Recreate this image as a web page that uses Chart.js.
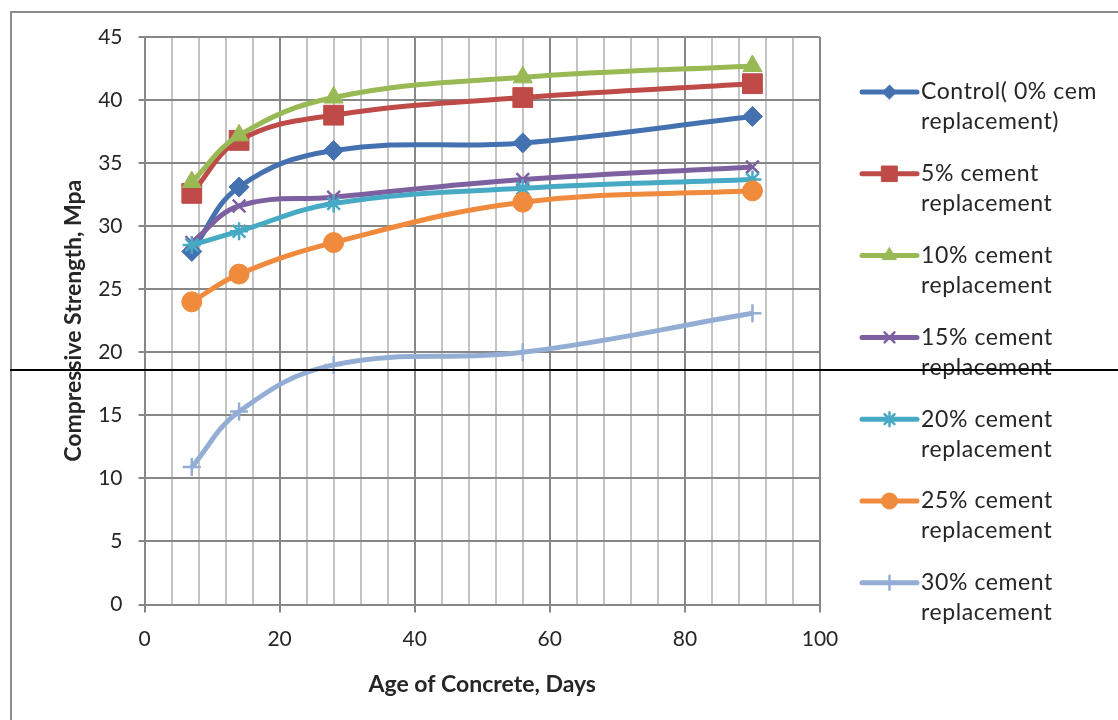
<!DOCTYPE html>
<html>
<head>
<meta charset="utf-8">
<script src="https://cdn.jsdelivr.net/npm/chart.js@4/dist/chart.umd.min.js"></script>
<style>
  html, body { margin:0; padding:0; background:#fff; }
  #wrap { position:relative; width:1118px; height:720px; overflow:hidden; }
  #frame { position:absolute; left:10px; top:11px; width:1200px; height:800px; border:2px solid #8c8c8c; box-sizing:border-box; pointer-events:none; }
  #stray { position:absolute; left:10px; top:369px; width:1108px; height:2px; background:#000; pointer-events:none; }
  canvas { position:absolute; left:0; top:0; }
</style>
</head>
<body>
<div id="wrap">
  <canvas id="c" width="1118" height="720"></canvas>
  <div id="frame"></div>
  <div id="stray"></div>
</div>
<script>
// ---- data ----
const days = [7, 14, 28, 56, 90];
const control = [28.0, 33.1, 36.0, 36.6, 38.7];
const rep5  = [32.6, 36.8, 38.8, 40.2, 41.3];
const rep10 = [33.5, 37.2, 40.2, 41.8, 42.7];
const rep15 = [28.7, 31.6, 32.3, 33.7, 34.7];
const rep20 = [28.5, 29.6, 31.8, 33.0, 33.7];
const rep25 = [24.0, 26.2, 28.7, 31.9, 32.8];
const rep30 = [10.9, 15.3, 19.0, 20.0, 23.1];
const seriesNames = [
  ["Control( 0% cem", "replacement)"],
  ["5% cement", "replacement"],
  ["10% cement", "replacement"],
  ["15% cement", "replacement"],
  ["20% cement", "replacement"],
  ["25% cement", "replacement"],
  ["30% cement", "replacement"]
];
const xTickLabels = [0, 20, 40, 60, 80, 100];
const yTickLabels = [0, 5, 10, 15, 20, 25, 30, 35, 40, 45];
const xTitle = "Age of Concrete, Days";
const yTitle = "Compressive Strength, Mpa";

const seriesValues = [control, rep5, rep10, rep15, rep20, rep25, rep30];
const colors = ['#4472B0', '#BE4B48', '#98B954', '#7D60A0', '#46AAC5', '#F08A3C', '#93ADD5'];
const styles = ['rectRot', 'rect', 'triangle', 'crossRot', 'star', 'circle', 'cross'];
const radii  = [10, 14, 11, 9, 9, 10, 9];
const legendRadii = [7, 11, 8, 7, 7, 8, 7];

const n = seriesValues.length;
const datasets = seriesValues.map((vals, i) => ({
  label: seriesNames[i].join(' '),
  data: vals.map((v, j) => ({ x: days[j], y: v })),
  borderColor: colors[i],
  backgroundColor: colors[i],
  pointBackgroundColor: colors[i],
  pointBorderColor: colors[i],
  pointStyle: styles[i],
  pointRadius: radii[i],
  pointBorderWidth: ['crossRot','star','cross'].includes(styles[i]) ? 2.5 : 1,
  borderWidth: 5,
  tension: 0.4,
  fill: false,
  order: n - i
}));

const FONT = 'Lato, "Open Sans", "DejaVu Sans", sans-serif';
const TXT = '#262626';

const legendPlugin = {
  id: 'customLegend',
  afterDraw(chart) {
    const ctx = chart.ctx;
    const x0 = 862, x1 = 917, tx = 921, y0 = 92, gap = 81.8, lh = 30;
    chart.data.datasets.forEach((ds, i) => {
      const y = y0 + i * gap;
      ctx.save();
      ctx.strokeStyle = ds.borderColor;
      ctx.lineWidth = 5;
      ctx.lineCap = 'round';
      ctx.beginPath();
      ctx.moveTo(x0, y);
      ctx.lineTo(x1, y);
      ctx.stroke();
      ctx.fillStyle = ds.borderColor;
      ctx.strokeStyle = ds.borderColor;
      ctx.lineWidth = ds.pointBorderWidth;
      if (Chart.helpers && Chart.helpers.drawPoint) {
        Chart.helpers.drawPoint(ctx, { pointStyle: ds.pointStyle, radius: legendRadii[i], rotation: 0, borderWidth: ds.pointBorderWidth }, (x0 + x1) / 2, y);
      }
      ctx.fillStyle = TXT;
      ctx.font = '23px ' + FONT;
      if ('letterSpacing' in ctx) ctx.letterSpacing = '0.6px';
      ctx.textBaseline = 'middle';
      ctx.textAlign = 'left';
      seriesNames[i].forEach((line, k) => ctx.fillText(line, tx, y + k * lh));
      ctx.restore();
    });
  }
};

new Chart(document.getElementById('c'), {
  type: 'line',
  data: { datasets },
  plugins: [legendPlugin],
  options: {
    responsive: false,
    animation: false,
    devicePixelRatio: 1,
    layout: { padding: { left: 60, top: 37, right: 298, bottom: 18 } },
    plugins: { legend: { display: false }, tooltip: { enabled: false } },
    scales: {
      x: {
        type: 'linear',
        min: 0, max: 100,
        afterFit: s => { s.height = 720 - 604.5 - 18; },
        ticks: {
          stepSize: 4,
          autoSkip: false,
          maxRotation: 0,
          padding: 14,
          color: TXT,
          font: { family: FONT, size: 21 },
          callback: v => xTickLabels.includes(v) ? String(v) : ''
        },
        grid: {
          lineWidth: 2,
          color: c => (c.tick && c.tick.value % 20 === 0) ? '#878787' : '#c4c4c4',
          tickColor: c => (c.tick && c.tick.value % 20 === 0) ? '#878787' : 'rgba(0,0,0,0)',
          tickLength: 8
        },
        border: { color: '#878787', width: 2 },
        title: { display: true, text: xTitle, color: TXT, font: { family: FONT, size: 23, weight: 'bold' }, padding: { top: 0, bottom: 4 } }
      },
      y: {
        min: 0, max: 45,
        afterFit: s => { s.width = 144.5 - 60; },
        ticks: {
          stepSize: 5,
          padding: 16,
          color: TXT,
          font: { family: FONT, size: 21 },
          callback: v => yTickLabels.includes(v) ? String(v) : ''
        },
        grid: { lineWidth: 2, color: '#878787', tickColor: '#878787', tickLength: 6 },
        border: { color: '#878787', width: 2 },
        title: { display: true, text: yTitle, color: TXT, font: { family: FONT, size: 23, weight: 'bold' }, padding: { top: 0, bottom: 0 } }
      }
    }
  }
});
</script>
</body>
</html>
